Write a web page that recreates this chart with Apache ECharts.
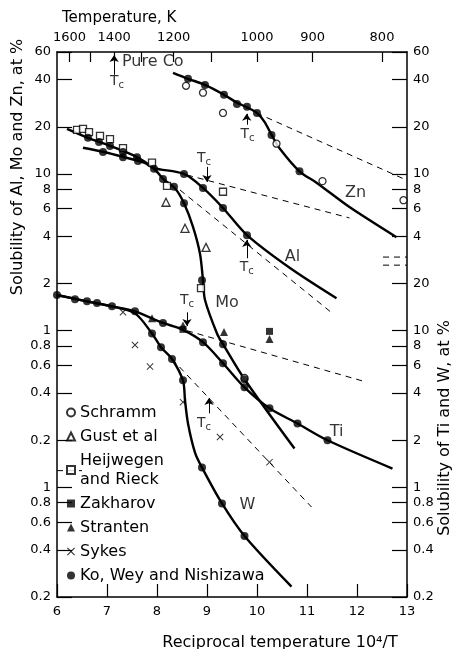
<!DOCTYPE html>
<html>
<head>
<meta charset="utf-8">
<script src="https://cdn.jsdelivr.net/npm/echarts@6/dist/echarts.min.js"></script>
<style>
html, body { margin: 0; padding: 0; background: #fff; }
#chart { width: 457px; height: 649px; }
</style>
</head>
<body>
<div id="chart"></div>
<script>
const FONT = 'DejaVu Sans'

// top axis, temperature in K (plotted at 10^4/T)
const tempTicks = [1600, 1500, 1400, 1300, 1200, 1100, 1000, 900, 800]
const tempLabels = [1600, 1400, 1200, 1000, 900, 800]
// left axis Al, Mo, Zn at % (lower part is relabelled for Ti, W)
const leftTicks = [60, 40, 20, 10, 8, 6, 4, 2, 1, 0.8, 0.6, 0.4, 0.2, 0.1, 0.08, 0.06, 0.04, 0.02]
// right axis Ti, W at % (upper part is relabelled for Al, Mo, Zn)
const rightTicks = [600, 400, 200, 100, 80, 60, 40, 20, 10, 8, 6, 4, 2, 1, 0.8, 0.6, 0.4, 0.2]

// fitted curves  [10^4/T, at %]
const znCurve = [[8.32, 44.2], [8.62, 40.5], [8.96, 37.0], [9.34, 32.0], [9.60, 28.5], [9.80, 26.6], [10.0, 24.5], [10.15, 21.5], [10.29, 17.8], [10.45, 14.6], [10.85, 10.4], [11.19, 8.8], [11.85, 6.15], [12.79, 3.95]]
const alCurve = [[6.52, 14.7], [6.94, 13.8], [7.34, 12.8], [7.74, 11.8], [7.94, 10.9], [8.54, 10.0], [8.92, 8.15], [9.32, 6.07], [9.80, 4.07], [10.66, 2.51], [11.59, 1.61]]
const moCurve = [[6.20, 19.4], [6.62, 17.0], [7.06, 15.1], [7.60, 12.8], [7.94, 10.8], [8.14, 9.2], [8.36, 8.1], [8.54, 6.5], [8.72, 4.6], [8.86, 3.1], [8.92, 2.1], [8.96, 1.57], [9.20, 0.96], [9.32, 0.82], [9.75, 0.49], [10.75, 0.177]]
const tiCurve = [[6.0, 16.9], [6.6, 15.4], [7.1, 14.3], [7.56, 13.3], [8.12, 11.2], [8.50, 10.2], [8.92, 8.45], [9.32, 6.2], [9.75, 4.35], [10.25, 3.2], [10.81, 2.56], [11.41, 2.0], [12.71, 1.32]]
const wCurve = [[6.0, 16.9], [6.6, 15.4], [7.1, 14.3], [7.56, 12.9], [7.90, 9.6], [8.08, 7.85], [8.30, 6.6], [8.52, 4.8], [8.56, 3.6], [8.62, 2.56], [8.76, 1.67], [8.90, 1.34], [9.30, 0.79], [9.75, 0.49], [10.69, 0.233]]

// dashed extrapolations
const znDash = [[9.99, 24.5], [12.97, 9.2]]
const alDashA = [[8.60, 9.85], [11.85, 5.24]]
const alDashB = [[8.46, 7.9], [11.51, 1.29]]
const tiDash = [[8.60, 10.0], [12.19, 4.7]]
const wDash = [[8.30, 6.6], [11.09, 0.75]]

// measured points (left = Al/Mo/Zn scale, right = Ti/W scale)
const schrammL = [[8.58, 36.5], [8.92, 33.0], [9.32, 24.5], [10.39, 15.6], [11.31, 9.0], [12.93, 6.8], [9.75, 0.50]]
const gustL = [[8.18, 6.6], [8.56, 4.5], [8.98, 3.4]]
const heijwegenL = [[6.40, 19.1], [6.52, 19.4], [6.64, 18.5], [6.86, 17.5], [7.06, 16.7], [7.32, 14.6], [7.90, 11.8], [8.20, 8.4], [8.88, 1.87], [9.32, 7.7]]
const zakharovL = [[10.25, 0.99], [8.52, 1.02]]
const strantenL = [[9.34, 0.98], [10.25, 0.885]]
const strantenR = [[7.90, 12.0], [8.52, 10.8]]
const sykesR = [[7.32, 13.1], [7.56, 8.1], [7.86, 5.9], [8.52, 3.5], [9.26, 2.1], [10.25, 1.45]]
const koL = [[8.62, 40.5], [8.96, 37.0], [9.34, 32.0], [9.60, 28.0], [9.80, 26.8], [10.0, 24.5], [10.29, 17.7], [10.85, 10.4],
  [6.62, 17.0], [6.84, 16.0], [7.06, 15.1], [7.32, 13.8], [7.60, 12.8], [7.94, 10.8], [8.12, 9.3], [8.34, 8.3], [8.54, 6.5], [8.90, 2.1], [9.32, 0.82], [9.75, 0.49],
  [6.92, 13.8], [7.32, 12.8], [7.62, 12.1], [8.54, 10.0], [8.92, 8.15], [9.32, 6.07], [9.80, 4.07]]
const koR = [[6.0, 16.9], [6.36, 15.9], [6.6, 15.4], [6.8, 15.0], [7.1, 14.3], [7.56, 13.3], [8.12, 11.2], [8.92, 8.45], [9.32, 6.2], [9.75, 4.35], [10.25, 3.2], [10.81, 2.56], [11.41, 2.0],
  [7.90, 9.6], [8.08, 7.85], [8.30, 6.6], [8.52, 4.83], [8.90, 1.34], [9.30, 0.79], [9.75, 0.49]]

// annotations (left scale)
const tcSpots = [[7.20, 38.8], [9.81, 18.0], [8.94, 12.5], [9.795, 2.54], [8.60, 1.57], [8.94, 0.256]]
const tcArrows = [[[7.143, 42.9], [7.143, 57.5]], [[9.795, 20.6], [9.795, 24.2]], [[9.0, 11.1], [9.0, 8.9]], [[9.795, 2.9], [9.795, 3.79]], [[8.60, 1.31], [8.60, 1.07]], [[9.04, 0.297], [9.04, 0.372]]]
const curveNames = ['Zn', 'Al', 'Mo', 'Ti', 'W']
const curveNamePos = [[11.97, 7.56], [10.71, 2.96], [9.40, 1.5], [11.59, 0.225], [9.81, 0.0773]]
const breakMarks = [[[12.52, 2.95], [13.0, 2.95]], [[12.52, 2.62], [13.0, 2.62]], [[6.0, 0.128], [6.5, 0.128]]]

const lg = pts => pts.map(p => [p[0], Math.log10(p[1])])
const nice = v => String(Number(v.toPrecision(2)))
const crossPath = 'path://M0,1 L1,0 L5,4 L9,0 L10,1 L6,5 L10,9 L9,10 L5,6 L1,10 L0,9 L4,5 Z'

function curve(pts, axis) {
  return { type: 'line', yAxisIndex: axis, data: lg(pts), smooth: 0.3, symbol: 'none', silent: true, z: 3,
    lineStyle: { color: '#000', width: 2.4 } }
}
function dash(pts, axis) {
  return { type: 'line', yAxisIndex: axis, data: lg(pts), symbol: 'none', silent: true, z: 2,
    lineStyle: { color: '#000', width: 1, type: [6, 5] } }
}
function marks(name, pts, axis, symbol, filled, size) {
  return { name: name, type: 'scatter', yAxisIndex: axis, data: lg(pts), symbol: symbol, symbolSize: size, silent: true, z: 5,
    itemStyle: filled ? { color: '#000' } : { color: '#fff', borderColor: '#000', borderWidth: 1.3 } }
}

const txt = { color: '#000', fontFamily: FONT }
const HEIJ = 'Heijwegen\nand Rieck'
const KO = 'Ko, Wey and Nishizawa'

const myChart = echarts.init(document.getElementById('chart'))
const option = {
  animation: false,
  textStyle: { fontFamily: FONT },
  title: { text: 'Temperature, K', left: 57, top: 6, textStyle: { ...txt, fontSize: 15, fontWeight: 'normal' } },
  grid: { left: 57, right: 50, top: 52, bottom: 52, outerBoundsMode: 'none', containLabel: false },
  legend: {
    orient: 'vertical', left: 66, top: 403, itemWidth: 8, itemHeight: 8, itemGap: 5, padding: 0,
    selectedMode: false,
    textStyle: { ...txt, fontSize: 16, lineHeight: 19 },
    data: ['Schramm', 'Gust et al', HEIJ, 'Zakharov', 'Stranten', 'Sykes', KO]
  },
  graphic: [
    { type: 'text', x: 18, y: 167, rotation: Math.PI / 2,
      style: { text: 'Solubility of Al, Mo and Zn, at %', font: '16px "DejaVu Sans"', fill: '#000', align: 'center', verticalAlign: 'middle', textAlign: 'center', textVerticalAlign: 'middle' } },
    { type: 'text', x: 445, y: 428, rotation: Math.PI / 2,
      style: { text: 'Solubility of Ti and W, at %', font: '16px "DejaVu Sans"', fill: '#000', align: 'center', verticalAlign: 'middle', textAlign: 'center', textVerticalAlign: 'middle' } }
  ],
  xAxis: [
    {
      type: 'value', min: 6, max: 13, interval: 1, position: 'bottom',
      axisLine: { onZero: false, lineStyle: { color: '#000', width: 1.5 } },
      axisTick: { inside: true, length: 13, lineStyle: { color: '#000', width: 1.2 } },
      axisLabel: { ...txt, fontSize: 13, margin: 8 },
      splitLine: { show: false },
      name: 'Reciprocal temperature 10⁴/T', nameLocation: 'middle', nameGap: 38,
      nameTextStyle: { ...txt, fontSize: 16, padding: [0, 0, 0, 96] }
    },
    {
      type: 'value', min: 6, max: 13, position: 'top',
      axisLine: { onZero: false, lineStyle: { color: '#000', width: 1.5 } },
      axisTick: { inside: true, length: 10, customValues: tempTicks.map(t => 1e4 / t), lineStyle: { color: '#000', width: 1.2 } },
      axisLabel: { ...txt, fontSize: 13, margin: 8, customValues: tempLabels.map(t => 1e4 / t), formatter: v => String(Math.round(1e4 / v)) },
      splitLine: { show: false }
    }
  ],
  yAxis: [
    {
      type: 'value', position: 'left', min: Math.log10(0.02), max: Math.log10(60),
      axisLine: { show: true, onZero: false, lineStyle: { color: '#000', width: 1.5 } },
      axisTick: { show: true, inside: true, length: 15, customValues: leftTicks.map(Math.log10), lineStyle: { color: '#000', width: 1.2 } },
      axisLabel: { ...txt, fontSize: 13, margin: 6, customValues: leftTicks.map(Math.log10),
        formatter: v => { const n = Math.pow(10, v); return nice(n < 0.15 ? n * 10 : n) } },
      splitLine: { show: false }
    },
    {
      type: 'value', position: 'right', min: Math.log10(0.2), max: Math.log10(600),
      axisLine: { show: true, onZero: false, lineStyle: { color: '#000', width: 1.5 } },
      axisTick: { show: true, inside: true, length: 15, customValues: rightTicks.map(Math.log10), lineStyle: { color: '#000', width: 1.2 } },
      axisLabel: { ...txt, fontSize: 13, margin: 6, customValues: rightTicks.map(Math.log10),
        formatter: v => { const n = Math.pow(10, v); return nice(n > 25 ? n / 10 : n) } },
      splitLine: { show: false }
    }
  ],
  series: [
    curve(znCurve, 0), curve(alCurve, 0), curve(moCurve, 0), curve(tiCurve, 1), curve(wCurve, 1),
    dash(znDash, 0), dash(alDashA, 0), dash(alDashB, 0), dash(tiDash, 1), dash(wDash, 1),
    ...breakMarks.map(b => dash(b, 0)),
    marks('Schramm', schrammL, 0, 'circle', false, 7),
    marks('Gust et al', gustL, 0, 'triangle', false, 8),
    marks(HEIJ, heijwegenL, 0, 'rect', false, 7),
    marks('Zakharov', zakharovL, 0, 'rect', true, 7),
    marks('Stranten', strantenL, 0, 'triangle', true, 8),
    marks('Stranten', strantenR, 1, 'triangle', true, 8),
    marks('Sykes', sykesR, 1, crossPath, true, 7),
    marks(KO, koL, 0, 'circle', true, 8),
    marks(KO, koR, 1, 'circle', true, 8),
    {
      type: 'scatter', yAxisIndex: 0, symbolSize: 1, silent: true, z: 6,
      itemStyle: { color: 'rgba(0,0,0,0)' },
      data: lg(tcSpots),
      label: {
        show: true, position: 'inside', formatter: '{t|T}{s|c}',
        rich: {
          t: { ...txt, fontSize: 14, lineHeight: 18, verticalAlign: 'middle' },
          s: { ...txt, fontSize: 10, lineHeight: 10, verticalAlign: 'bottom' }
        }
      },
      markLine: {
        silent: true, symbol: ['none', 'arrow'], symbolSize: 7, animation: false,
        lineStyle: { color: '#000', width: 1, type: 'solid' },
        label: { show: false },
        data: tcArrows.map(a => [{ coord: [a[0][0], Math.log10(a[0][1])] }, { coord: [a[1][0], Math.log10(a[1][1])] }])
      }
    },
    {
      type: 'scatter', yAxisIndex: 0, symbolSize: 1, silent: true, z: 6,
      itemStyle: { color: 'rgba(0,0,0,0)' },
      data: curveNames.map((n, i) => ({ name: n, value: [curveNamePos[i][0], Math.log10(curveNamePos[i][1])] })),
      label: { show: true, position: 'inside', formatter: p => p.name, ...txt, fontSize: 16 }
    },
    {
      type: 'scatter', yAxisIndex: 0, symbolSize: 1, silent: true, z: 6,
      itemStyle: { color: 'rgba(0,0,0,0)' },
      data: [{ name: 'Pure Co', value: [7.30, Math.log10(51.9)] }],
      label: { show: true, position: 'inside', align: 'left', formatter: p => p.name, ...txt, fontSize: 16 }
    }
  ]
}
myChart.setOption(option, true)
</script>
</body>
</html>
